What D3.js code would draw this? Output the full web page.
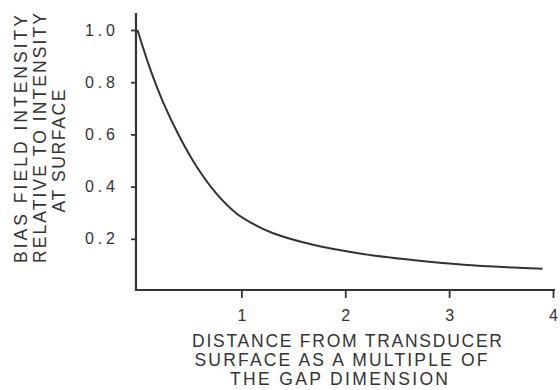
<!DOCTYPE html>
<html><head><meta charset="utf-8">
<script src="https://cdn.jsdelivr.net/npm/d3@7"></script>
<style>
html,body{margin:0;padding:0;background:#fff;}
svg text{font-family:"Liberation Sans",Arial,sans-serif;fill:#333;}
</style></head>
<body>
<svg id="chart" width="560" height="390"></svg>
<script>
const distance  = [0, 0.12, 0.25, 0.41, 0.57, 0.76, 0.95, 1.1, 1.3, 1.7, 2.17, 2.65, 3.14, 3.62, 3.9];
const intensity = [1.0, 0.853, 0.72, 0.587, 0.476, 0.373, 0.298, 0.26, 0.222, 0.176, 0.142, 0.119, 0.101, 0.09, 0.085];
const xTicks = [1, 2, 3, 4];
const xTickLabels = ["1", "2", "3", "4"];
const yTicks = [0.2, 0.4, 0.6, 0.8, 1.0];
const yTickLabels = ["0.2", "0.4", "0.6", "0.8", "1.0"];
const yTitle = ["BIAS FIELD INTENSITY", "RELATIVE TO INTENSITY", "AT SURFACE"];
const xTitle = ["DISTANCE FROM TRANSDUCER", "SURFACE AS A MULTIPLE OF", "THE GAP DIMENSION"];

const ink = "#333";
const svg = d3.select("#chart");
const x = d3.scaleLinear().domain([0, 4]).range([137.5, 553]);
const y = d3.scaleLinear().domain([0, 1]).range([291, 30]);

// axes lines
svg.append("line").attr("x1", 136).attr("x2", 136).attr("y1", 13).attr("y2", 291)
  .attr("stroke", ink).attr("stroke-width", 2.2);
svg.append("line").attr("x1", 135).attr("x2", 555).attr("y1", 290).attr("y2", 290)
  .attr("stroke", ink).attr("stroke-width", 2.2);

// x axis
const xAxis = d3.axisBottom(x).tickValues(xTicks).tickSize(8).tickSizeOuter(0)
  .tickFormat((d, i) => xTickLabels[i]).tickPadding(12);
const gx = svg.append("g").attr("transform", "translate(0,290)").call(xAxis);
gx.select(".domain").remove();
gx.selectAll(".tick line").attr("stroke", ink).attr("stroke-width", 1.8);
gx.selectAll(".tick text").attr("font-size", 16).attr("fill", ink)
  .attr("font-family", "'Liberation Sans',Arial,sans-serif");

// y axis
const yAxis = d3.axisLeft(y).tickValues(yTicks).tickSize(5).tickSizeOuter(0)
  .tickFormat((d, i) => yTickLabels[i]).tickPadding(16);
const gy = svg.append("g").attr("transform", "translate(136,0)").call(yAxis);
gy.select(".domain").remove();
gy.selectAll(".tick line").attr("stroke", ink).attr("stroke-width", 1.8);
gy.selectAll(".tick text").attr("font-size", 16).attr("fill", ink)
  .attr("font-family", "'Liberation Sans',Arial,sans-serif")
  .attr("textLength", 30).attr("lengthAdjust", "spacing");

// curve
const pts = distance.map((d, i) => [d, intensity[i]]);
svg.append("path").datum(pts)
  .attr("fill", "none").attr("stroke", ink).attr("stroke-width", 2)
  .attr("d", d3.line().x(d => x(d[0])).y(d => y(d[1])).curve(d3.curveCatmullRom.alpha(0.5)));

// y title (rotated)
const yT = [{x: 27, c: 139, len: 248}, {x: 45.5, c: 138, len: 250}, {x: 65, c: 151, len: 123}];
yTitle.forEach((t, i) => {
  svg.append("text")
    .attr("transform", `translate(${yT[i].x},${yT[i].c}) rotate(-90)`)
    .attr("text-anchor", "middle").attr("font-size", 17.5)
    .attr("textLength", yT[i].len).attr("lengthAdjust", "spacing")
    .text(t);
});

// x title
const xT = [{y: 347, c: 347, len: 310}, {y: 366, c: 341, len: 293}, {y: 385, c: 339, len: 218}];
xTitle.forEach((t, i) => {
  svg.append("text")
    .attr("x", xT[i].c).attr("y", xT[i].y)
    .attr("text-anchor", "middle").attr("font-size", 17.5)
    .attr("textLength", xT[i].len).attr("lengthAdjust", "spacing")
    .text(t);
});
</script>
</body></html>
